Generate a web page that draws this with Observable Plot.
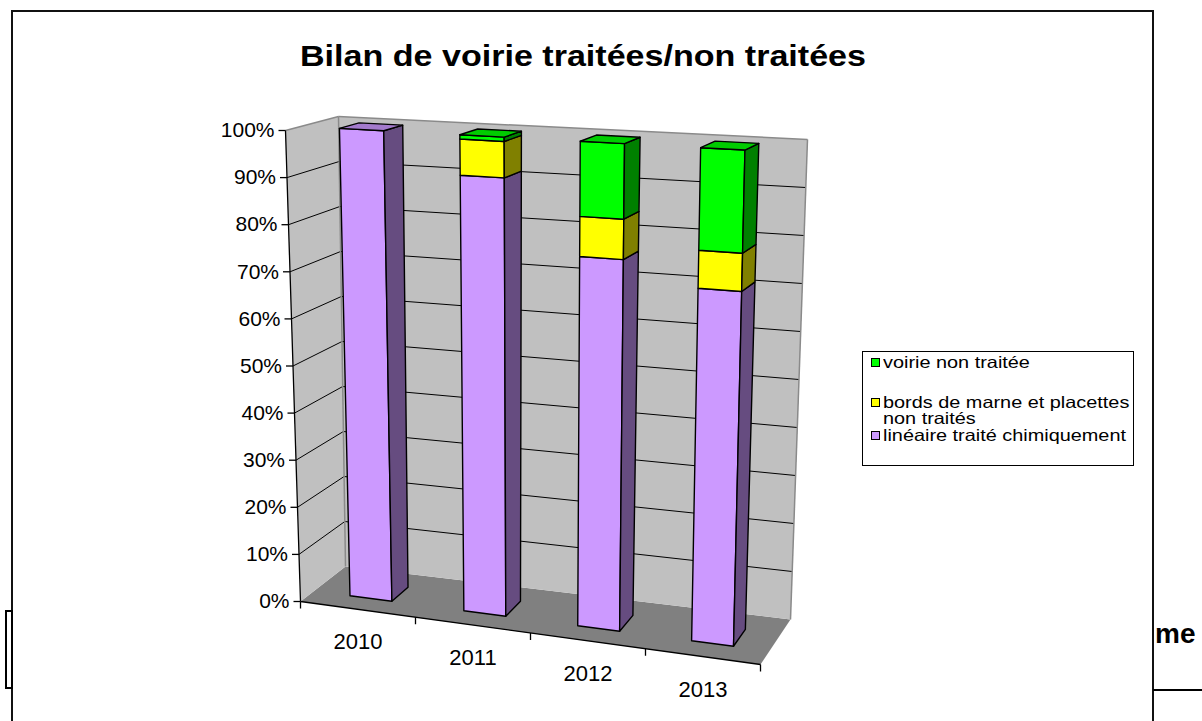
<!DOCTYPE html>
<html>
<head>
<meta charset="utf-8">
<script src="https://cdn.jsdelivr.net/npm/d3@7"></script>
<script src="https://cdn.jsdelivr.net/npm/@observablehq/plot@0.6"></script>
<style>
  body { margin: 0; background: #fff; font-family: "Liberation Sans", Arial, sans-serif; }
  #wrap { position: relative; width: 1202px; height: 721px; overflow: hidden; background: #fff; }
  #chart { position: absolute; left: 0; top: 0; }
  .abs { position: absolute; white-space: nowrap; line-height: 1; }
  #frame { position: absolute; left: 11px; top: 10px; width: 1143px; height: 760px; box-sizing: border-box;
           border: 2px solid #111; border-bottom: none; }
  #smallbox { position: absolute; left: 5px; top: 610px; width: 8px; height: 79px; box-sizing: border-box; border: 2px solid #000; background:#fff; }
  #hline { position: absolute; left: 1153px; top: 689px; width: 49px; height: 2px; background: #000; }
  #me { position: absolute; left: 1155px; top: 620px; font-weight: bold; font-size: 28px; line-height: 1; }
  #title { font-weight: bold; font-size: 30px; transform-origin: left top; }
  #legend { position: absolute; left: 862px; top: 351px; width: 272px; height: 115px; box-sizing: border-box;
            border: 1px solid #000; background: #fff; }
  .lt { position: absolute; font-size: 16.5px; line-height: 1; white-space: nowrap; transform-origin: left top; }
  .sw { position: absolute; width: 9px; height: 9px; box-sizing: border-box; border: 1px solid #000; }
</style>
</head>
<body>
<div id="wrap">
  <div id="frame"></div>
  <div id="chart"></div>
  <div id="smallbox"></div>
  <div id="hline"></div>
  <div id="me">me</div>
  <div id="title" class="abs">Bilan de voirie traitées/non traitées</div>
  <div id="legend"></div>
</div>
<script>
// ---------------- DATA ----------------
const years = ["2010", "2011", "2012", "2013"];
const seriesNames = ["linéaire traité chimiquement", "bords de marne et placettes non traités", "voirie non traitée"];
const lineaire = [100, 91.5, 76.2, 71.5];   // % linéaire traité chimiquement
const bords    = [0, 7.6, 8.3, 7.7];        // % bords de marne et placettes non traités
const voirie   = [0, 0.9, 15.5, 20.8];      // % voirie non traitée
const yTicks   = [0, 10, 20, 30, 40, 50, 60, 70, 80, 90, 100];
const yTickLabels = ["0%", "10%", "20%", "30%", "40%", "50%", "60%", "70%", "80%", "90%", "100%"];

// ---------------- STYLE ----------------
const frontColors = ["#CC99FF", "#FFFF00", "#00FF00"];
const sideColors  = ["#664C80", "#808000", "#008000"];
const topColors   = ["#A37ACC", "#CCCC00", "#00CC00"];
const wallColor = "#C0C0C0", floorColor = "#808080";

// 3D box corners of the plot area (screen px): F = front plane, B = back plane
const C = {
  F00: [300, 601], F10: [760, 664], F01: [285, 130], F11: [772, 157],
  B00: [345, 566], B10: [790, 619], B01: [338, 116], B11: [807, 139]
};
const lerp = (a, b, t) => [a[0] + (b[0] - a[0]) * t, a[1] + (b[1] - a[1]) * t];
function P(X, Y, Z) {
  const f = lerp(lerp(C.F00, C.F10, X), lerp(C.F01, C.F11, X), Y);
  const b = lerp(lerp(C.B00, C.B10, X), lerp(C.B01, C.B11, X), Y);
  const p = lerp(f, b, Z);
  return {x: p[0], y: p[1]};
}
const barWidth = 0.092, Z0 = 0.3, Z1 = 0.68;

// ---------------- BUILD FACES ----------------
const series = [lineaire, bords, voirie];
const faces = [];
faces.push({pts: [P(0,0,0), P(1,0,0), P(1,0,1), P(0,0,1)], fill: floorColor, stroke: "none", sw: 0});
faces.push({pts: [P(0,0,0), P(0,1,0), P(0,1,1), P(0,0,1)], fill: wallColor, stroke: "none", sw: 0});
faces.push({pts: [P(0,0,1), P(1,0,1), P(1,1,1), P(0,1,1)], fill: wallColor, stroke: "none", sw: 0});

const barFaces = [];
years.forEach((yr, i) => {
  const X0 = i * 0.25 + 0.125 - barWidth / 2, X1 = X0 + barWidth;
  let base = 0, lastK = 0;
  series.forEach((vals, k) => {
    const v = vals[i] / 100;
    if (v <= 0) return;
    const y0 = base, y1 = base + v;
    barFaces.push({pts: [P(X0,y0,Z0), P(X1,y0,Z0), P(X1,y1,Z0), P(X0,y1,Z0)], fill: frontColors[k], stroke: "#000", sw: 1.4});
    barFaces.push({pts: [P(X1,y0,Z0), P(X1,y0,Z1), P(X1,y1,Z1), P(X1,y1,Z0)], fill: sideColors[k], stroke: "#000", sw: 1.4});
    base = y1; lastK = k;
  });
  barFaces.push({pts: [P(X0,base,Z0), P(X1,base,Z0), P(X1,base,Z1), P(X0,base,Z1)], fill: topColors[lastK], stroke: "#000", sw: 1.4});
});

const grid = [];
yTicks.filter(t => t > 0 && t < 100).forEach(t => {
  const v = t / 100;
  const a = P(0, v, 0), b = P(0, v, 1), c = P(1, v, 1);
  grid.push({x1: a.x, y1: a.y, x2: b.x, y2: b.y});
  grid.push({x1: b.x, y1: b.y, x2: c.x, y2: c.y});
});
const outline = [
  [P(0,1,0), P(0,1,1)], [P(0,1,1), P(1,1,1)], [P(1,1,1), P(1,0,1)], [P(0,0,1), P(0,1,1)]
].map(([a, b]) => ({x1: a.x, y1: a.y, x2: b.x, y2: b.y}));
const axes = [[P(0,0,0), P(0,1,0)], [P(0,0,0), P(1,0,0)]].map(([a, b]) => ({x1: a.x, y1: a.y, x2: b.x, y2: b.y}));
const yTickSegs = yTicks.map(t => { const a = P(0, t / 100, 0); return {x1: a.x - 7, y1: a.y, x2: a.x, y2: a.y}; });
const xTickSegs = [0, 1, 2, 3, 4].map(j => { const a = P(j / 4, 0, 0); return {x1: a.x, y1: a.y, x2: a.x, y2: a.y + 7}; });

const polyMark = f => Plot.line(f.pts, {x: "x", y: "y", fill: f.fill, stroke: f.stroke, strokeWidth: f.sw, curve: "linear-closed", strokeLinejoin: "round"});

const chart = Plot.plot({
  width: 1202, height: 721, margin: 0,
  x: {domain: [0, 1202], range: [0, 1202], axis: null},
  y: {domain: [0, 721], range: [0, 721], axis: null},
  style: {fontFamily: "'Liberation Sans', Arial, sans-serif", background: "transparent", overflow: "visible"},
  marks: [
    ...faces.map(polyMark),
    Plot.link(grid, {x1: "x1", y1: "y1", x2: "x2", y2: "y2", stroke: "#000", strokeWidth: 1}),
    Plot.link(outline, {x1: "x1", y1: "y1", x2: "x2", y2: "y2", stroke: "#8a8a8a", strokeWidth: 1.5}),
    Plot.link(axes, {x1: "x1", y1: "y1", x2: "x2", y2: "y2", stroke: "#000", strokeWidth: 1.3}),
    Plot.link(yTickSegs, {x1: "x1", y1: "y1", x2: "x2", y2: "y2", stroke: "#000", strokeWidth: 1.3}),
    Plot.link(xTickSegs, {x1: "x1", y1: "y1", x2: "x2", y2: "y2", stroke: "#000", strokeWidth: 1.3}),
    ...barFaces.map(polyMark),
    Plot.text(yTicks, {
      x: t => P(0, t / 100, 0).x - 11, y: t => P(0, t / 100, 0).y,
      text: (t, i) => yTickLabels[i], textAnchor: "end", fontSize: 21, fill: "#000", ariaLabel: "ylabels"
    }),
    Plot.text(years, {
      x: (d, i) => P((i + 0.5) / 4, 0, 0).x, y: (d, i) => P((i + 0.5) / 4, 0, 0).y + 33,
      text: d => d, fontSize: 22, fill: "#000", ariaLabel: "xlabels"
    })
  ]
});
document.getElementById("chart").appendChild(chart);

function stretchSvg(label, k) {
  d3.select(chart).selectAll(`g[aria-label="${label}"] text`).each(function () {
    const w = this.getComputedTextLength();
    this.setAttribute("textLength", (w * k).toFixed(2));
    this.setAttribute("lengthAdjust", "spacingAndGlyphs");
  });
}
stretchSvg("ylabels", 1.06);
stretchSvg("xlabels", 1.05);

// ---------------- HTML title & legend ----------------
function placeText(el, left, baseline, fs, targetWidth) {
  el.style.left = left + "px";
  el.style.top = (baseline - 0.8465 * fs) + "px";
  if (targetWidth) {
    const w = el.getBoundingClientRect().width;
    el.style.transform = `scaleX(${targetWidth / w})`;
  }
}
placeText(document.getElementById("title"), 300, 66, 30, 566);

const legend = document.getElementById("legend");
const FS = 16.5;
const legendRows = [
  {k: 2, lines: [seriesNames[2]], baselines: [368]},
  {k: 1, lines: ["bords de marne et placettes", "non traités"], baselines: [408, 424]},
  {k: 0, lines: [seriesNames[0]], baselines: [441]}
];
const LX = 862, LY = 351;
let legendScale = null;
legendRows.slice().reverse().forEach(row => {
  row.lines.forEach((txt, j) => {
    const el = document.createElement("div");
    el.className = "lt";
    el.textContent = txt;
    legend.appendChild(el);
    el.style.left = (883 - LX - 1) + "px";
    el.style.top = (row.baselines[j] - 0.8465 * FS - LY - 1) + "px";
    if (legendScale === null) legendScale = 243 / el.getBoundingClientRect().width;
    el.style.transform = `scaleX(${legendScale})`;
  });
  const sw = document.createElement("div");
  sw.className = "sw";
  sw.style.background = frontColors[row.k];
  sw.style.left = (871 - LX - 1) + "px";
  sw.style.top = (row.baselines[0] - 10 - LY - 1) + "px";
  legend.appendChild(sw);
});
</script>
</body>
</html>
